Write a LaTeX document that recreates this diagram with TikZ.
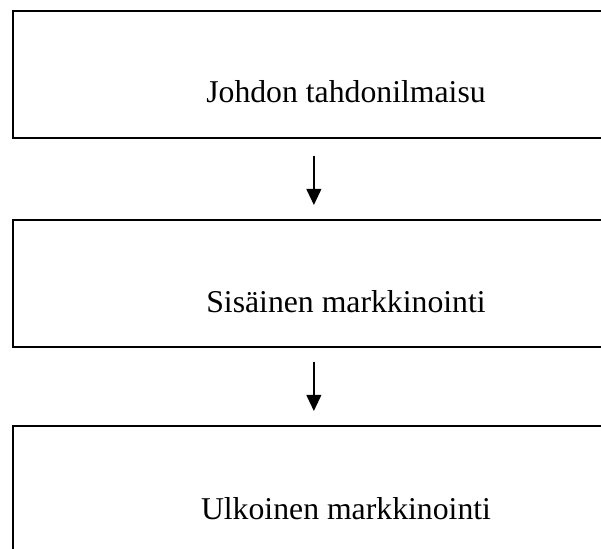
\documentclass[tikz,border=0pt]{standalone}
\usepackage{fontspec}
\setmainfont{Liberation Serif}
\usetikzlibrary{arrows.meta}
\begin{document}
\begin{tikzpicture}[x=0.75pt,y=-0.75pt,
  stage/.style={draw=black, line width=1.3pt, fill=none, inner sep=0pt,
    anchor=north west, minimum width=456pt, minimum height=95.25pt},
  lbl/.style={anchor=base, inner sep=0pt, font=\fontsize{23.8}{28}\selectfont},
  flow/.style={line width=1.4pt, -{Triangle[width=11pt,length=12pt]}}]
  \useasboundingbox (0,0) rectangle (601,549);
  \clip (0,0) rectangle (601,549);
  \fill[white] (0,0) rectangle (601,549);

  % three stages, each open to the right edge
  \node[stage] (b1) at (12,10) {};
  \node[stage] (b2) at (12,219) {};
  \node[stage, minimum height=105pt] (b3) at (12,425) {};

  \node[lbl] (t1) at (346,103) {Johdon tahdonilmaisu};
  \node[lbl] (t2) at (346,313) {Sisäinen markkinointi};
  \node[lbl] (t3) at (346,520) {Ulkoinen markkinointi};

  % downward flow between stages
  \draw[flow, shorten <=12.75pt, shorten >=10.5pt]
    ([xshift=-2.25pt]b1.south) -- ([xshift=-2.25pt]b1.south |- b2.north);
  \draw[flow, shorten <=10.5pt, shorten >=10.5pt]
    ([xshift=-2.25pt]b2.south) -- ([xshift=-2.25pt]b2.south |- b3.north);
\end{tikzpicture}
\end{document}
